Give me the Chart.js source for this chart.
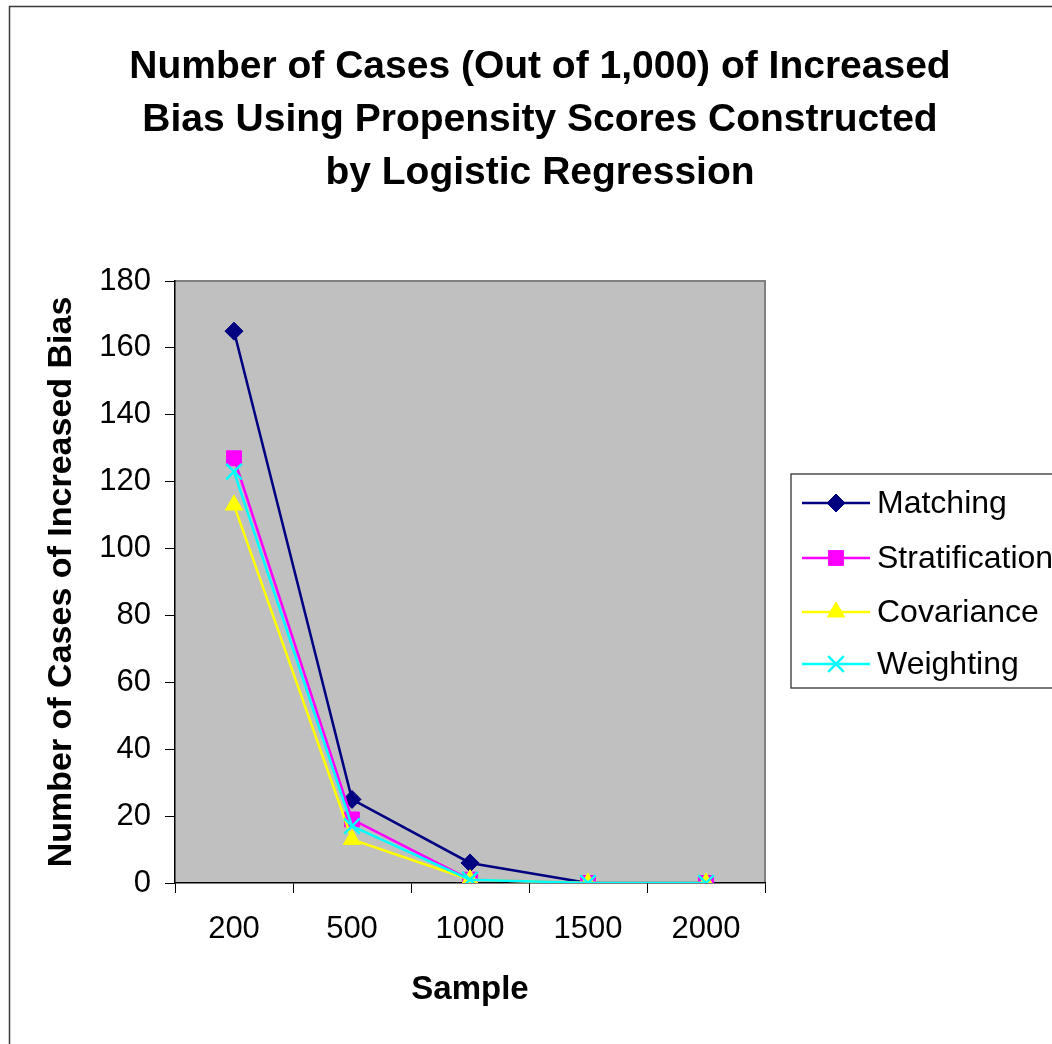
<!DOCTYPE html>
<html>
<head>
<meta charset="utf-8">
<script src="https://cdn.jsdelivr.net/npm/chart.js@4/dist/chart.umd.min.js"></script>
<style>
  html, body { margin: 0; padding: 0; background: #fff; }
  canvas { display: block; }
</style>
</head>
<body>
<canvas id="c" width="1052" height="1044"></canvas>
<script>
// Sample sizes on the x axis
const sampleSizes = ['200', '500', '1000', '1500', '2000'];

// Cases (out of 1,000) of increased bias for each method
const matching       = [165, 25, 6, 0, 0];
const stratification = [127, 19, 1, 0, 0];
const covariance     = [113, 13, 1, 0, 0];
const weighting      = [123, 17, 1, 0, 0];

const titleLines = [
  'Number of Cases (Out of 1,000) of Increased',
  'Bias Using Propensity Scores Constructed',
  'by Logistic Regression'
];
const yTitle = 'Number of Cases of Increased Bias';
const xTitle = 'Sample';

const FONT = '"Liberation Sans", Arial, Helvetica, sans-serif';

function series(label, data, color, pointStyle, radius, order) {
  return {
    label, data, order,
    borderColor: color,
    backgroundColor: color,
    borderWidth: 2.5,
    pointStyle,
    pointRadius: radius,
    pointHoverRadius: radius,
    pointBackgroundColor: color,
    pointBorderColor: color,
    pointBorderWidth: pointStyle === 'crossRot' ? 2.5 : 1,
    tension: 0,
    fill: false
  };
}

// Grey plotting area with its frame, plus the outer chart border
const backdrop = {
  id: 'backdrop',
  beforeDraw(chart) {
    const { ctx, chartArea: a } = chart;
    ctx.save();
    ctx.fillStyle = '#ffffff';
    ctx.fillRect(0, 0, chart.width, chart.height);
    ctx.strokeStyle = '#3a3a3a';
    ctx.lineWidth = 1.5;
    ctx.beginPath();
    ctx.moveTo(9.5, chart.height + 2);
    ctx.lineTo(9.5, 6.5);
    ctx.lineTo(chart.width + 2, 6.5);
    ctx.stroke();

    ctx.fillStyle = '#c0c0c0';
    ctx.fillRect(a.left, a.top, a.right - a.left, a.bottom - a.top);
    ctx.strokeStyle = '#808080';
    ctx.lineWidth = 2;
    ctx.beginPath();
    ctx.moveTo(a.left, a.top);
    ctx.lineTo(a.right, a.top);
    ctx.lineTo(a.right, a.bottom);
    ctx.stroke();
    ctx.restore();
  }
};

// Three-line bold heading
const heading = {
  id: 'heading',
  afterDraw(chart) {
    const { ctx } = chart;
    ctx.save();
    ctx.fillStyle = '#000';
    ctx.font = 'bold 39px ' + FONT;
    ctx.textAlign = 'center';
    ctx.textBaseline = 'alphabetic';
    const baselines = [78, 131, 184];
    titleLines.forEach((t, i) => ctx.fillText(t, 540, baselines[i]));
    ctx.restore();
  }
};

// Boxed legend with line-and-marker samples
const sideLegend = {
  id: 'sideLegend',
  afterDraw(chart) {
    const { ctx } = chart;
    ctx.save();
    ctx.strokeStyle = '#333';
    ctx.lineWidth = 1.3;
    ctx.strokeRect(791, 474, 400, 214);
    const rows = [503, 558, 612, 664];
    chart.data.datasets.forEach((ds, i) => {
      const y = rows[i];
      ctx.strokeStyle = ds.borderColor;
      ctx.lineWidth = 2.5;
      ctx.beginPath();
      ctx.moveTo(802, y);
      ctx.lineTo(870, y);
      ctx.stroke();
      ctx.fillStyle = ds.pointBackgroundColor;
      ctx.strokeStyle = ds.pointBorderColor;
      ctx.lineWidth = ds.pointBorderWidth;
      Chart.helpers.drawPoint(ctx, {
        pointStyle: ds.pointStyle, radius: ds.pointRadius, rotation: 0,
        borderWidth: ds.pointBorderWidth
      }, 836, y);
      ctx.fillStyle = '#000';
      ctx.font = '32px ' + FONT;
      ctx.textAlign = 'left';
      ctx.textBaseline = 'middle';
      ctx.fillText(ds.label, 877, y + 1);
    });
    ctx.restore();
  }
};

new Chart(document.getElementById('c'), {
  type: 'line',
  data: {
    labels: sampleSizes,
    datasets: [
      series('Matching', matching, '#000080', 'rectRot', 9, 4),
      series('Stratification', stratification, '#ff00ff', 'rect', 10.5, 3),
      series('Covariance', covariance, '#ffff00', 'triangle', 10, 2),
      series('Weighting', weighting, '#00ffff', 'crossRot', 11, 1)
    ]
  },
  options: {
    responsive: false,
    animation: false,
    devicePixelRatio: 1,
    layout: { padding: { left: 20, top: 281, right: 287, bottom: 0 } },
    plugins: {
      legend: { display: false },
      title: { display: false },
      tooltip: { enabled: false }
    },
    scales: {
      x: {
        type: 'category',
        offset: true,
        grid: { offset: true, drawOnChartArea: false, drawTicks: true, tickLength: 10, color: '#000', lineWidth: 1 },
        border: { color: '#000', width: 1.5 },
        ticks: { color: '#000', font: { family: FONT, size: 31 }, padding: 18, maxRotation: 0 },
        title: { display: true, text: xTitle, color: '#000',
                 font: { family: FONT, size: 33, weight: 'bold' }, padding: { top: 0, bottom: 34 } },
        afterFit(scale) { scale.height = 161; }
      },
      y: {
        min: 0, max: 180,
        ticks: { stepSize: 20, color: '#000', font: { family: FONT, size: 31 }, padding: 14 },
        grid: { drawOnChartArea: false, drawTicks: true, tickLength: 10, color: '#000', lineWidth: 1 },
        border: { color: '#000', width: 1.5 },
        title: { display: true, text: yTitle, color: '#000',
                 font: { family: FONT, size: 34, weight: 'bold' }, padding: { top: 21, bottom: 0 } },
        afterFit(scale) { scale.width = 155; }
      }
    }
  },
  plugins: [backdrop, heading, sideLegend]
});
</script>
</body>
</html>
